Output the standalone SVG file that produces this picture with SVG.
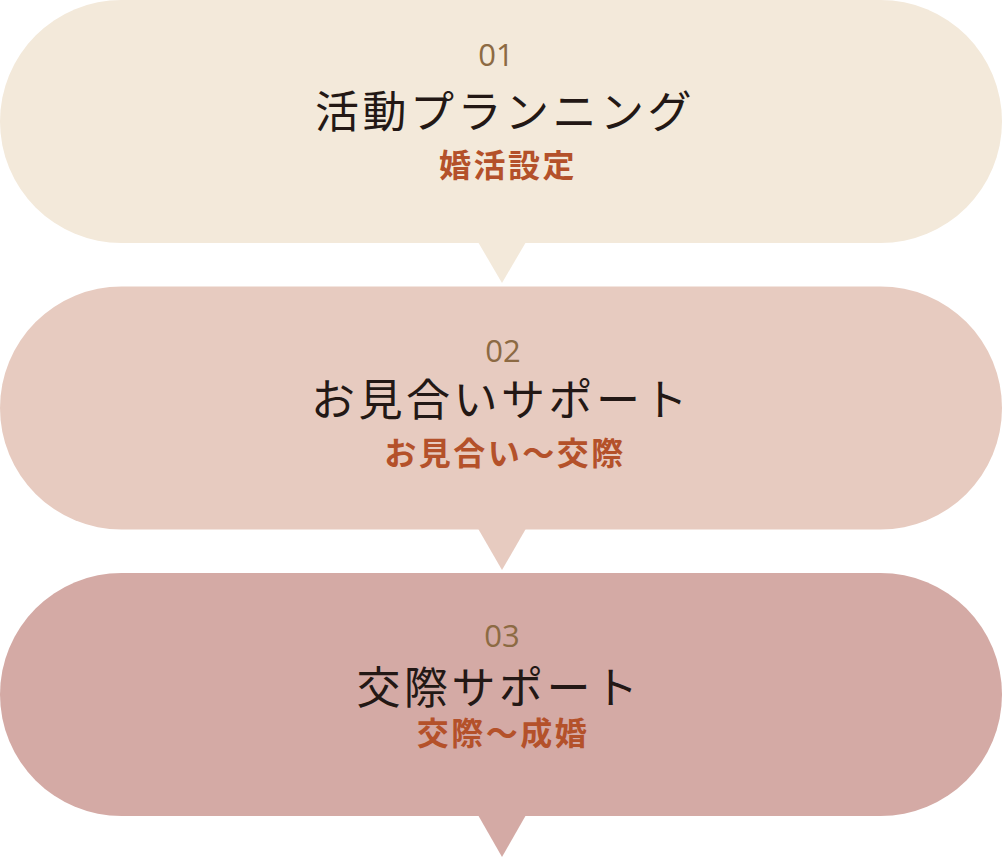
<svg xmlns="http://www.w3.org/2000/svg" width="1002" height="857" viewBox="0 0 1002 857">
<style>
.num{font-family:"Open Sans","Noto Sans",sans-serif;font-size:31px;fill:#8c6a43;text-anchor:middle}
.ttl{font-family:"Noto Sans CJK JP",sans-serif;font-size:44px;fill:#231815;text-anchor:middle;letter-spacing:3.5px}
.sub{font-family:"Noto Sans CJK JP",sans-serif;font-size:32px;font-weight:bold;fill:#b4512a;text-anchor:middle;letter-spacing:2.5px}
</style>
<g id="node1">
<rect x="0" y="0" width="1002" height="243" rx="121.5" ry="121.5" fill="#f3e9da"/>
<polygon points="478,242 526,242 502,283" fill="#f3e9da"/>
<text class="num" x="496" y="66">01</text>
<text class="ttl" x="505" y="128">活動プランニング</text>
<text class="sub" x="508" y="177">婚活設定</text>
</g>
<g id="node2">
<rect x="0" y="286.5" width="1002" height="243" rx="121.5" ry="121.5" fill="#e7cbc0"/>
<polygon points="478,528.5 526,528.5 502,570" fill="#e7cbc0"/>
<text class="num" x="503" y="362">02</text>
<text class="ttl" x="501" y="416">お見合いサポート</text>
<text class="sub" x="505" y="465">お見合い〜交際</text>
</g>
<g id="node3">
<rect x="0" y="573" width="1002" height="243" rx="121.5" ry="121.5" fill="#d4aaa5"/>
<polygon points="478,815 526,815 502,857" fill="#d4aaa5"/>
<text class="num" x="502" y="647">03</text>
<text class="ttl" x="499" y="704">交際サポート</text>
<text class="sub" x="503" y="745">交際〜成婚</text>
</g>
<g id="connectors"></g>
</svg>
